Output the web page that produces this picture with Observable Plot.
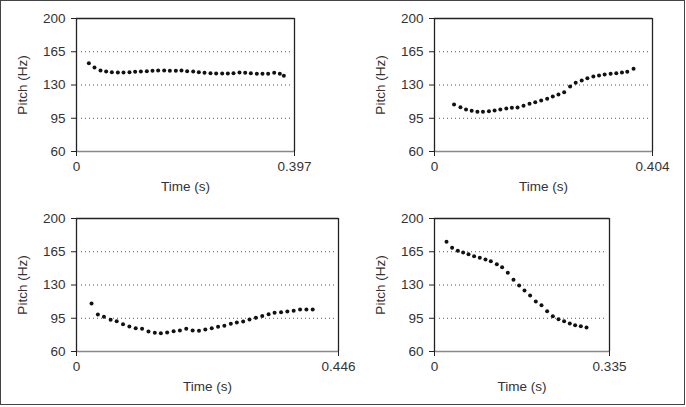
<!DOCTYPE html>
<html><head><meta charset="utf-8">
<script src="https://cdn.jsdelivr.net/npm/d3@7"></script>
<script src="https://cdn.jsdelivr.net/npm/@observablehq/plot@0.6"></script>
<style>
body{margin:0;background:#fff;}
#wrap{position:relative;width:686px;height:407px;overflow:hidden;background:#fff;}
#border{position:absolute;left:0;top:0;width:685px;height:405px;box-sizing:border-box;border:1.5px solid #444;}
.panel{position:absolute;}
</style></head><body><div id="wrap"><div id="border"></div></div>
<script>
const yTicks = [60, 95, 130, 165, 200];
const gridValues = [95, 130, 165];
const durations = [0.397, 0.404, 0.446, 0.335];
const xLabel = "Time (s)";
const yLabel = "Pitch (Hz)";

const t1 = [0.0225,0.0328,0.0437,0.0540,0.0644,0.0753,0.0856,0.0965,0.1068,0.1172,0.1281,0.1384,0.1487,0.1597,0.1700,0.1809,0.1912,0.2015,0.2125,0.2228,0.2331,0.2440,0.2543,0.2653,0.2756,0.2859,0.2968,0.3072,0.3175,0.3284,0.3387,0.3490,0.3600,0.3703,0.3776];
const f1 = [153.0,148.4,145.3,144.2,143.5,143.2,143.2,143.5,143.9,144.2,144.5,144.9,145.3,145.3,144.9,144.9,145.3,144.5,144.2,143.5,142.8,142.5,142.1,142.1,142.1,142.5,143.2,142.8,142.5,141.8,141.8,141.8,142.8,141.8,139.7];

const t2 = [0.0362,0.0481,0.0584,0.0689,0.0795,0.0898,0.1009,0.1114,0.1220,0.1331,0.1434,0.1539,0.1650,0.1761,0.1867,0.1977,0.2088,0.2192,0.2297,0.2403,0.2513,0.2617,0.2728,0.2833,0.2944,0.3049,0.3153,0.3264,0.3369,0.3474,0.3572,0.3689];
const f2 = [109.5,106.7,104.2,102.8,101.8,101.8,102.5,103.2,104.2,105.3,106.0,106.3,108.1,110.2,111.9,113.7,115.5,117.9,120.0,122.4,128.4,132.3,134.7,137.2,139.0,140.0,141.1,141.8,142.5,143.2,143.9,147.0];

const t3 = [0.0256,0.0364,0.0467,0.0581,0.0684,0.0792,0.0900,0.1008,0.1116,0.1225,0.1333,0.1436,0.1543,0.1653,0.1760,0.1868,0.1977,0.2085,0.2193,0.2302,0.2410,0.2517,0.2627,0.2729,0.2837,0.2945,0.3054,0.3162,0.3270,0.3372,0.3482,0.3589,0.3697,0.3806,0.3914,0.4021];
const f3 = [110.5,99.0,96.5,93.3,91.9,88.8,86.3,84.6,83.9,81.1,79.7,79.3,80.0,81.4,82.1,83.9,82.1,81.8,83.2,84.6,86.0,87.0,89.2,90.5,91.6,93.7,95.4,97.5,99.3,100.7,101.4,102.1,102.8,104.2,104.2,104.2];

const t4 = [0.0230,0.0337,0.0446,0.0548,0.0651,0.0758,0.0867,0.0976,0.1078,0.1193,0.1294,0.1403,0.1512,0.1620,0.1723,0.1830,0.1939,0.2048,0.2156,0.2265,0.2374,0.2481,0.2590,0.2692,0.2801,0.2910];
const f4 = [175.5,169.2,166.0,164.2,162.4,160.3,158.6,156.8,155.1,151.9,148.7,142.8,135.5,129.5,124.2,119.0,112.6,108.7,102.4,97.2,94.0,91.9,89.5,87.7,86.6,85.3];

const geos = [
  {left: 0,   top: 0,   w: 343, h: 200, ml: 76, mr: 49, mt: 18, mb: 49},
  {left: 343, top: 0,   w: 343, h: 200, ml: 91, mr: 34, mt: 18, mb: 49},
  {left: 0,   top: 200, w: 378, h: 207, ml: 76, mr: 40, mt: 18, mb: 56},
  {left: 343, top: 200, w: 343, h: 207, ml: 91, mr: 77, mt: 18, mb: 56}
];

const FONT = "'Liberation Sans', Arial, sans-serif";

function panel(times, pitches, dur, g) {
  const data = times.map((t, i) => ({t, f: pitches[i]}));
  const fmt = d => d === 0 ? "0" : String(d);
  const svg = Plot.plot({
    width: g.w, height: g.h,
    marginLeft: g.ml, marginRight: g.mr, marginTop: g.mt, marginBottom: g.mb,
    style: {fontFamily: FONT, fontSize: "13.5px", color: "#333", background: "transparent", overflow: "visible"},
    x: {domain: [0, dur]},
    y: {domain: [60, 200]},
    marks: [
      Plot.ruleY(gridValues, {stroke: "#555", strokeDasharray: "1,3", insetLeft: 5, insetRight: 3}),
      Plot.ruleY([60], {stroke: "#888", strokeWidth: 1.3}),
      Plot.ruleY([200], {stroke: "#222", strokeWidth: 1.3}),
      Plot.ruleX([0, dur], {stroke: "#222", strokeWidth: 1.3}),
      Plot.axisY({ticks: yTicks, tickSize: 5, tickPadding: 6, stroke: "#222", fill: "#333", fontSize: 13.5, label: yLabel, labelAnchor: "center", labelOffset: 59, labelArrow: "none"}),
      Plot.axisX({ticks: [0, dur], tickSize: 5, tickPadding: 5, stroke: "#222", fill: "#333", fontSize: 13.5, tickFormat: fmt, label: xLabel, labelAnchor: "center", labelOffset: 39, labelArrow: "none"}),
      Plot.dot(data, {x: "t", y: "f", r: 2, fill: "#111", stroke: null})
    ]
  });
  svg.classList.add("panel");
  svg.style.left = g.left + "px";
  svg.style.top = g.top + "px";
  svg.style.position = "absolute";
  document.getElementById("wrap").appendChild(svg);
}

const all = [[t1, f1], [t2, f2], [t3, f3], [t4, f4]];
all.forEach(([t, f], i) => panel(t, f, durations[i], geos[i]));
</script>
</body></html>
